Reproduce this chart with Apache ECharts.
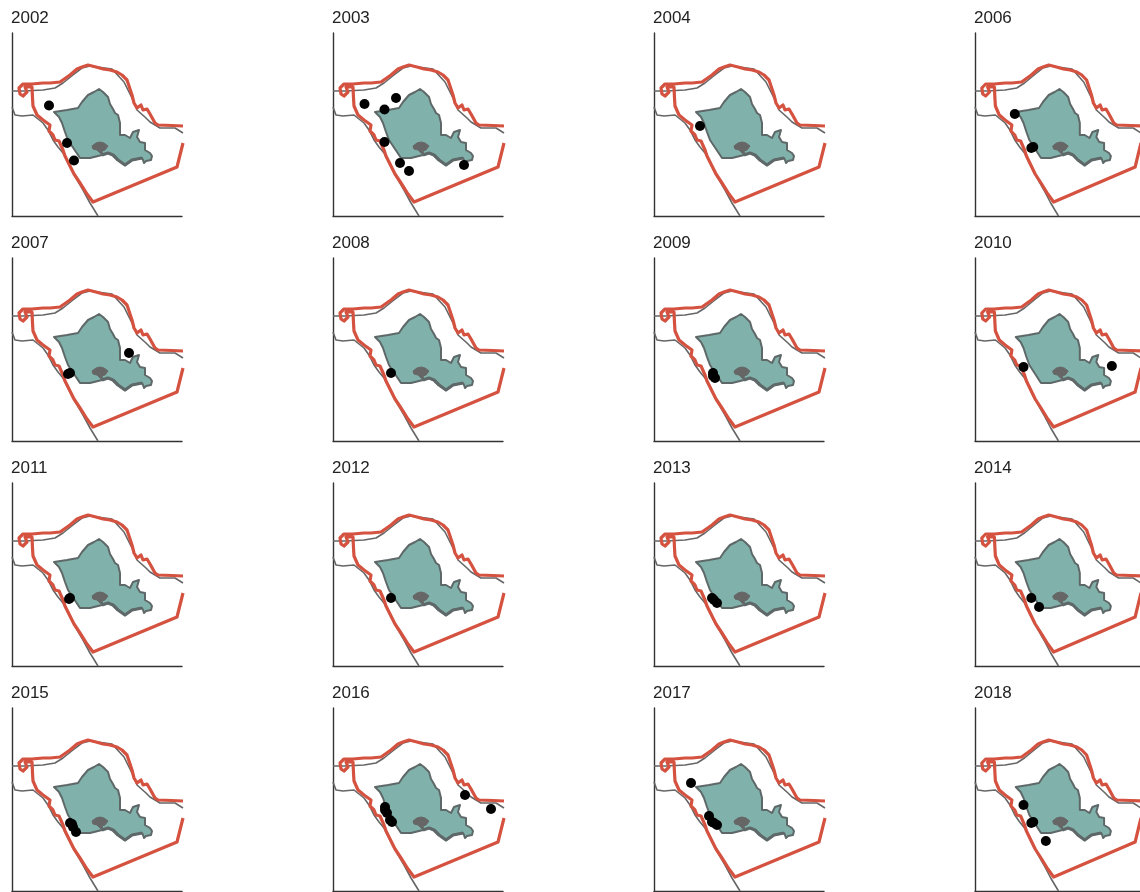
<!DOCTYPE html>
<html><head><meta charset="utf-8">
<style>html,body{margin:0;padding:0;background:#fff}#c{width:1140px;height:892px}</style>
<script src="https://cdn.jsdelivr.net/npm/echarts@6/dist/echarts.min.js"></script>
</head><body><div id="c"></div>
<script>
const years=[2002,2003,2004,2006,2007,2008,2009,2010,2011,2012,2013,2014,2015,2016,2017,2018];
const sightings=[
[[37,110.5],[55,73],[62,55.5]],
[[31.5,112],[63,118],[51.5,106.5],[51.5,74],[67,53],[76,45],[131,51]],
[[46,90]],
[[41,102],[58,68],[60,69]],
[[117,88],[58,68],[56,67]],
[[58,68]],
[[59,68],[61,63],[59,65]],
[[50,74],[141,75]],
[[58,68],[57,67]],
[[58,68]],
[[58,68],[63,63],[60,66]],
[[58,68],[66,59]],
[[58,68],[61,64],[64,59],[60,67]],
[[132,96],[158,82],[52,84],[54,78],[59,69],[57,71],[52,81]],
[[37,108],[55,75],[58,69],[63,66],[60,68]],
[[50,86],[58,68],[73,50],[60,69]]
];
const protectedBoundary=[[171,90],[160,90.5],[146,91],[143,93],[138,102],[135,107],[131,106],[129,111],[125,108],[122,113],[120,121],[117,130],[115,136],[110,141],[105,144],[98,146],[91,147],[84,149],[76,151],[70,149],[65,147],[58,141],[48,134],[38,133],[31,133],[20,132],[11,132],[7,128],[8,122],[11,120],[15,124],[13,129],[20,129],[20.5,118],[21,110],[25,101],[31,96],[38,91],[37,85],[41,81],[43,76],[47,75],[51,66],[53,60],[58,50],[62,42],[68,33],[75,22],[81,14],[165,49],[171,73]];
const northCoast=[[0,125],[12,125],[31,126],[43,128],[51,133],[61,141],[70,148],[78,150],[100,147],[112,134],[121,116],[125,106],[134,98],[138,94],[148,88],[163,88],[171,83]];
const westCoast=[[0,109],[3,101],[10,100],[21,101],[31,93],[36,86],[41,76],[46,69],[51,63],[60,45],[71,26],[78,13],[86,0]];
const island=[[42,104],[55,106],[66,108],[70,114],[76,121],[82,124],[87,127],[91,124],[96,119],[98,112],[101,107],[103,103],[106,101],[108,93],[108,81],[113,81],[118,78],[121,84],[127,86],[125,79],[128,74],[133,73],[133,66],[138,63],[140,60],[139,56],[134,55],[132,53],[131,56],[130,58],[120,56],[113,51],[106,56],[101,61],[96,63],[90,61],[78,58],[68,58],[62,67],[56,76],[53,84],[50,93],[47,99]];
const pearlHarbor=[[80,70],[84,73],[88,74],[92,73],[96,70],[93,66],[90,65],[91,61],[88,63],[85,66],[81,67]];
const southShore=[[90,61],[96,63],[101,61],[106,56],[113,51],[120,56],[130,58]];

const ox=[12,333,654,975], oy=[33,258,483,708], W=170, H=183;
const xMax=170, yMax=183;
const titles=[],grids=[],xA=[],yA=[],series=[];
function poly(gi,pts,fill,stroke,sw,z){
  series.push({type:'custom',coordinateSystem:'cartesian2d',xAxisIndex:gi,yAxisIndex:gi,z,silent:true,clip:true,
    data:[0],renderItem:(p,api)=>({type:'polygon',shape:{points:pts.map(c=>api.coord(c))},style:{fill,stroke,lineWidth:sw,lineJoin:'round'}})});
}
function line(gi,pts,color,w,z){
  series.push({type:'line',xAxisIndex:gi,yAxisIndex:gi,data:pts,showSymbol:false,symbol:'none',silent:true,z,clip:true,
    lineStyle:{color,width:w,join:'round'}});
}
years.forEach((yr,i)=>{
  const c=i%4,r=Math.floor(i/4);
  grids.push({left:ox[c],top:oy[r],width:W,height:H});
  const ax={type:'value',gridIndex:i,axisTick:{show:false},axisLabel:{show:false},splitLine:{show:false},
    axisLine:{show:true,onZero:false,lineStyle:{color:'#333',width:1.4}}};
  xA.push({...ax,min:0,max:xMax});
  yA.push({...ax,min:0,max:yMax});
  titles.push({text:String(yr),left:ox[c]-1,top:oy[r]-23,textStyle:{fontFamily:'Liberation Sans',fontSize:17,fontWeight:'normal',color:'#222'},padding:0});
  line(i,northCoast,'#666',1.6,2);
  line(i,westCoast,'#666',1.6,2);
  poly(i,island,'#80b2ab','#5f6868',2,3);
  line(i,southShore,'#5f6868',3.2,4);
  poly(i,pearlHarbor,'#666','#666',1,4);
  line(i,protectedBoundary,'#d4523f',3.2,5);
  series.push({type:'scatter',xAxisIndex:i,yAxisIndex:i,data:sightings[i],symbol:'circle',symbolSize:10,itemStyle:{color:'#000',opacity:1},z:6,silent:true});
});
const chart=echarts.init(document.getElementById('c'),null,{renderer:'canvas'});
chart.setOption({animation:false,backgroundColor:'#fff',title:titles,grid:grids,xAxis:xA,yAxis:yA,series});
</script></body></html>
